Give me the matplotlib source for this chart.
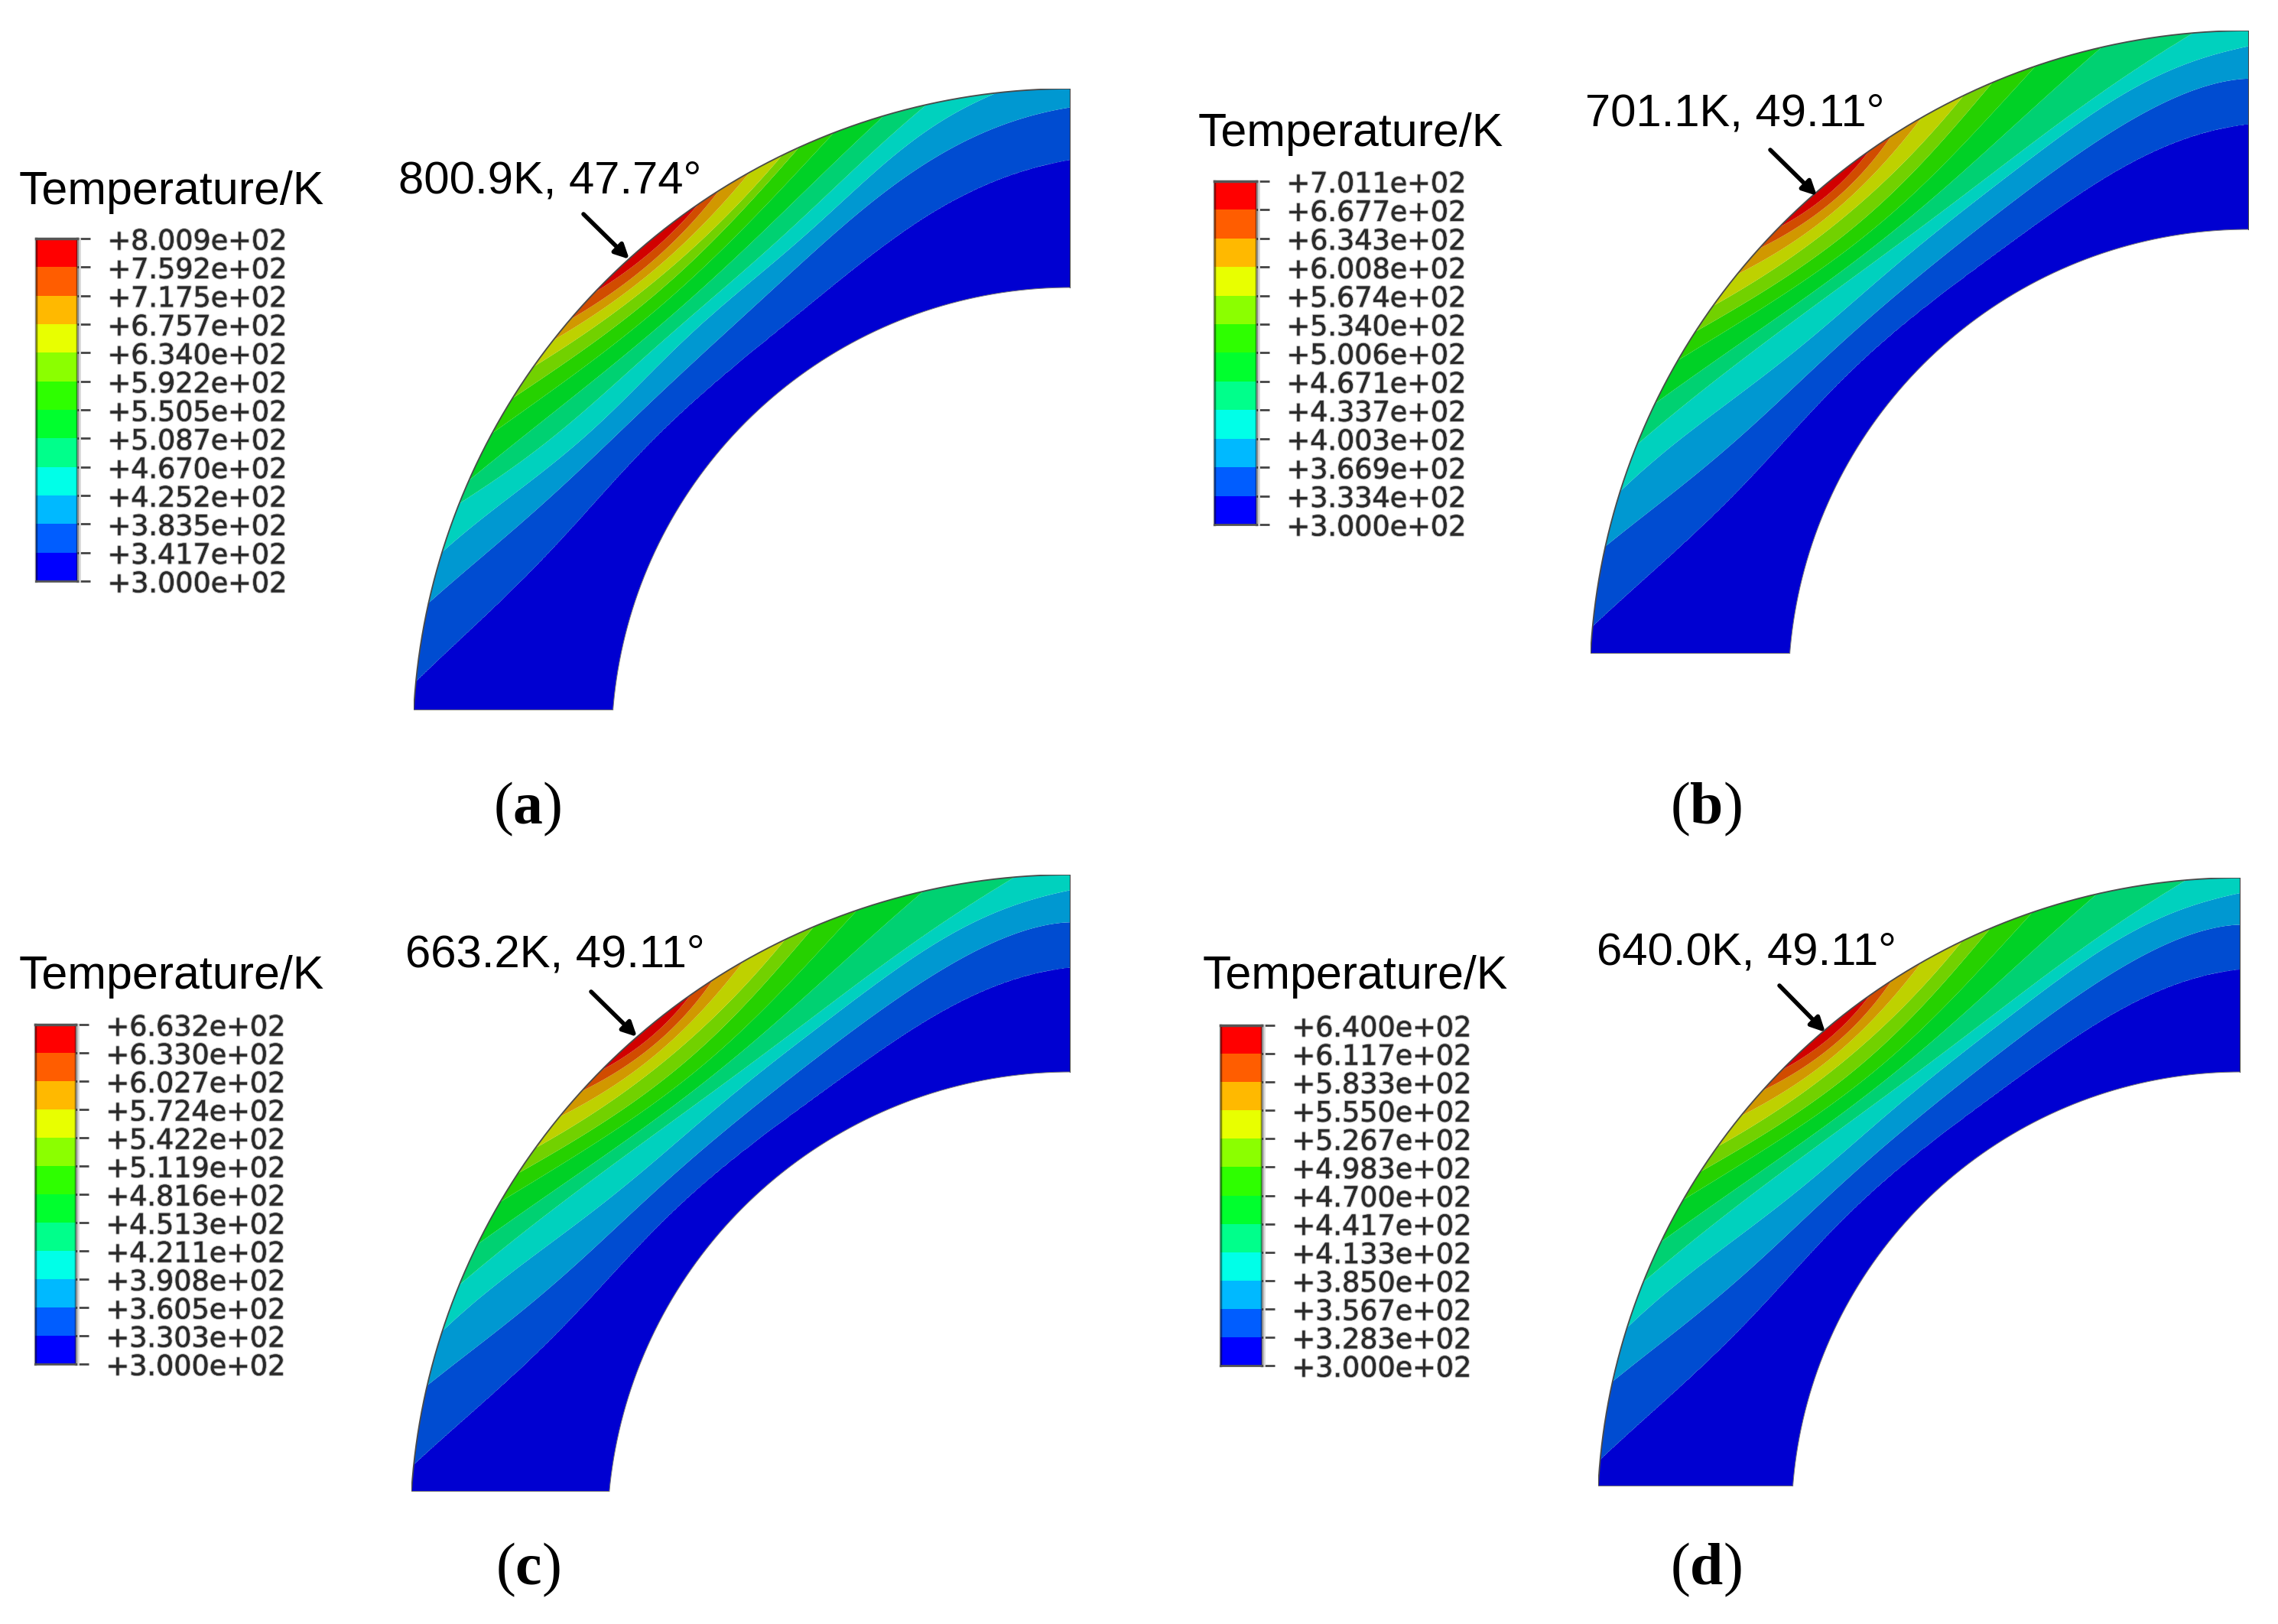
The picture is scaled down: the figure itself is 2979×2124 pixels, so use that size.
import numpy as np
import matplotlib
matplotlib.use("Agg")
import matplotlib.pyplot as plt
import matplotlib.patheffects as pe

W, H = 2979, 2124

# legend values of each case, top to bottom
LEVELS_A = [800.9, 759.2, 717.5, 675.7, 634.0, 592.2, 550.5, 508.7, 467.0, 425.2, 383.5, 341.7, 300.0]
LEVELS_B = [701.1, 667.7, 634.3, 600.8, 567.4, 534.0, 500.6, 467.1, 433.7, 400.3, 366.9, 333.4, 300.0]
LEVELS_C = [663.2, 633.0, 602.7, 572.4, 542.2, 511.9, 481.6, 451.3, 421.1, 390.8, 360.5, 330.3, 300.0]
LEVELS_D = [640.0, 611.7, 583.3, 555.0, 526.7, 498.3, 470.0, 441.7, 413.3, 385.0, 356.7, 328.3, 300.0]

NOTES = ["800.9K, 47.74°", "701.1K, 49.11°", "663.2K, 49.11°", "640.0K, 49.11°"]
LABELS = ["a", "b", "c", "d"]

# abaqus default contour colours, low to high
BAND_RGB = [(0, 0, 255), (0, 93, 255), (0, 185, 255), (0, 255, 232), (0, 255, 139), (0, 255, 46),
            (46, 255, 0), (139, 255, 0), (232, 255, 0), (255, 185, 0), (255, 93, 0), (255, 0, 0)]

# angle from the left end of the arc, degrees
ANGLES = [0, 10, 20, 30, 35, 40, 45, 50, 55, 60, 70, 80, 90]

# radius (outer surface = 1) where each contour sits at each angle, lowest contour first
# values above 1 lie outside the part, so that contour meets the surface there
RADII_A = [
    [1.040, 0.906, 0.825, 0.785, 0.773, 0.762, 0.757, 0.757, 0.760, 0.768, 0.805, 0.850, 0.886],
    [1.120, 1.000, 0.895, 0.835, 0.820, 0.810, 0.806, 0.806, 0.815, 0.830, 0.875, 0.930, 0.970],
    [1.200, 1.050, 0.948, 0.868, 0.855, 0.846, 0.842, 0.841, 0.848, 0.862, 0.910, 0.980, 1.050],
    [1.250, 1.107, 0.996, 0.905, 0.884, 0.872, 0.864, 0.862, 0.869, 0.884, 0.938, 1.026, 1.146],
    [1.281, 1.132, 1.018, 0.939, 0.913, 0.895, 0.886, 0.886, 0.894, 0.911, 0.971, 1.066, 1.196],
    [1.382, 1.204, 1.068, 0.974, 0.942, 0.920, 0.910, 0.909, 0.919, 0.939, 1.011, 1.124, 1.279],
    [1.469, 1.267, 1.112, 1.004, 0.968, 0.943, 0.930, 0.929, 0.940, 0.962, 1.042, 1.169, 1.343],
    [1.579, 1.343, 1.162, 1.035, 0.993, 0.963, 0.948, 0.945, 0.953, 0.974, 1.060, 1.200, 1.422],
    [1.726, 1.441, 1.223, 1.067, 1.016, 0.981, 0.963, 0.960, 0.970, 0.996, 1.100, 1.280, 1.549],
    [1.884, 1.541, 1.279, 1.098, 1.037, 0.996, 0.976, 0.973, 0.986, 1.020, 1.150, 1.370, 1.696],
    [2.022, 1.637, 1.341, 1.134, 1.064, 1.016, 0.991, 0.986, 0.998, 1.035, 1.180, 1.420, 1.765],
    [2.042, 1.657, 1.361, 1.154, 1.084, 1.036, 1.003, 1.003, 1.018, 1.055, 1.200, 1.440, 1.785],
]

# cases b, c and d share almost the same pattern
RADII_BCD = [
    [1.040, 0.900, 0.815, 0.775, 0.762, 0.752, 0.747, 0.745, 0.746, 0.750, 0.780, 0.820, 0.850],
    [1.120, 1.000, 0.885, 0.825, 0.808, 0.795, 0.791, 0.790, 0.793, 0.800, 0.835, 0.885, 0.923],
    [1.200, 1.050, 0.955, 0.875, 0.850, 0.835, 0.828, 0.826, 0.830, 0.840, 0.875, 0.930, 0.975],
    [1.237, 1.104, 0.998, 0.921, 0.893, 0.872, 0.858, 0.851, 0.851, 0.858, 0.894, 0.957, 1.049],
    [1.336, 1.170, 1.041, 0.948, 0.916, 0.892, 0.877, 0.872, 0.876, 0.888, 0.941, 1.030, 1.156],
    [1.466, 1.259, 1.099, 0.985, 0.946, 0.917, 0.900, 0.895, 0.901, 0.919, 0.990, 1.107, 1.270],
    [1.555, 1.322, 1.142, 1.015, 0.970, 0.940, 0.922, 0.917, 0.926, 0.948, 1.030, 1.166, 1.354],
    [1.637, 1.380, 1.182, 1.043, 0.995, 0.962, 0.944, 0.941, 0.948, 0.970, 1.060, 1.210, 1.442],
    [1.889, 1.543, 1.277, 1.091, 1.028, 0.985, 0.962, 0.959, 0.970, 1.000, 1.120, 1.330, 1.655],
    [2.213, 1.752, 1.397, 1.149, 1.066, 1.008, 0.978, 0.974, 0.986, 1.030, 1.190, 1.470, 1.901],
    [2.500, 1.940, 1.506, 1.203, 1.100, 1.030, 0.992, 0.987, 1.002, 1.050, 1.250, 1.600, 2.115],
    [2.520, 1.960, 1.526, 1.223, 1.120, 1.050, 1.012, 1.003, 1.022, 1.070, 1.270, 1.620, 2.135],
]

# layout in reference pixels
# part: left, right, top, inner_y, bottom
PARTS = [(541, 1400, 116, 376, 929), (2080, 2941, 40, 300, 855),
         (538, 1400, 1144, 1402, 1951), (2090, 2930, 1148, 1402, 1944)]
# legend bar: left, right, top, bottom
BARS = [(47, 101, 312, 760), (1588, 1643, 237, 686), (46, 99, 1340, 1784), (1596, 1650, 1341, 1786)]
TITLE_XY = [(25, 251), (1567, 175), (25, 1278), (1573, 1278)]
NOTE_XY = [(521, 237), (2073, 149), (530, 1249), (2088, 1246)]
ARROWS = [((763, 280), (823, 339)), ((2315, 196), (2376, 256)), ((773, 1297), (833, 1356)), ((2327, 1289), (2387, 1350))]
LABEL_XY = [(690, 1058), (2231, 1058), (690, 2053), (2231, 2053)]


def pixel_axes(fig, left, right, top, bottom):
    """
    Make an axes from a box given in reference pixels.
    """
    return fig.add_axes([left / W, 1 - bottom / H, (right - left) / W, (bottom - top) / H])


def contour_radii(radii, t):
    """
    Smooth curve for each row of the contour table, evaluated at angles t.
    Table values well outside the part only steer the fit, so they weigh little.
    """
    out = []
    for row in radii:
        row = np.array(row)
        weights = np.where(row < 1.1, 1.0, 0.05)
        coef = np.polyfit(np.array(ANGLES) / 90, row, 8, w=weights)
        out.append(np.polyval(coef, t / 90))
    return np.array(out)


def draw_part(fig, box, radii, levels, colors):
    left, right, top, inner_y, bottom = box
    ax = pixel_axes(fig, left, right, top, bottom)
    ax.set_xlim(left, right)
    ax.set_ylim(bottom, top)
    ax.axis("off")

    # two concentric circles, the centre lies a little below the lower cut
    dx = right - left
    dy = bottom - top
    r_out = (dx**2 + dy**2) / (2 * dy)
    cy = top + r_out
    r_in = cy - inner_y

    phi = np.radians(np.linspace(-8, 90, 800))
    rho = np.linspace(r_in, r_out, 280)
    X = right - rho[None, :] * np.cos(phi)[:, None]
    Y = cy - rho[None, :] * np.sin(phi)[:, None]

    # the table was read relative to a box fitted on the part
    u = (right - X) / dx
    v = (bottom - Y) / dy
    t = np.clip(np.degrees(np.arctan2(v, u)), 0, 90)
    r = np.hypot(u, v)
    surf = np.interp(t, t[:, -1], r[:, -1])
    pos = r + (1 - surf) * np.clip((r - 0.7) / 0.3, 0, 1)

    low = levels[::-1]
    edges = np.concatenate([np.zeros((1,) + t.shape), contour_radii(radii, t)])
    T = np.full(t.shape, low[-1], dtype=float)
    for j in range(12):
        mask = (pos >= edges[j]) & (pos < edges[j + 1])
        w = (pos[mask] - edges[j][mask]) / (edges[j + 1][mask] - edges[j][mask])
        T[mask] = low[j] + w * (low[j + 1] - low[j])
    ax.contourf(X, Y, T, levels=low, colors=colors, antialiased=True)

    # thin mesh outline
    ax.plot(X[:, -1], Y[:, -1], color="#4a4a4a", lw=1.3, clip_on=True)
    ax.plot(X[:, 0], Y[:, 0], color="#777777", lw=0.7, clip_on=True)
    ax.plot([right, right], [top, inner_y], color="#444444", lw=1.5)
    ax.plot([left, left + r_out - r_in], [bottom, bottom], color="#777777", lw=1.5)


def draw_legend(fig, box, levels, colors):
    left, right, top, bottom = box
    ax = pixel_axes(fig, left, right, top, bottom)
    ax.barh(np.arange(12) + 0.5, 1, height=1, color=colors)
    ax.set_xlim(0, 1)
    ax.set_ylim(0, 12)
    ax.set_xticks([])
    ax.yaxis.tick_right()
    ax.set_yticks(range(13))
    labels = [f"+{v / 100:.3f}e+02" for v in levels[::-1]]
    ax.set_yticklabels(labels, fontsize=26.3, color="#2a2a2a", family="DejaVu Sans")
    ax.tick_params(axis="y", length=12.5, width=2.0, color="#444444", pad=16)
    for spine in ["left", "right"]:
        ax.spines[spine].set_color((0, 0, 0, 0.45))
        ax.spines[spine].set_linewidth(2.5)
    ax.spines["top"].set_color("#555555")
    ax.spines["top"].set_linewidth(2.5)
    ax.spines["bottom"].set_color("#555555")
    ax.spines["bottom"].set_linewidth(2.0)
    ax.plot([1.05, 1.05], [0, 12], color="#d8d8d8", lw=2.0, clip_on=False)
    # the labels have a soft grey halo in the reference
    for lab in ax.get_yticklabels():
        lab.set_path_effects([pe.withStroke(linewidth=1.6, foreground="#b8b8b8"), pe.Normal()])


def main():
    plt.rcParams["font.family"] = ["Liberation Sans", "DejaVu Sans"]
    plt.rcParams["mathtext.fontset"] = "custom"
    plt.rcParams["mathtext.bf"] = "Liberation Serif:bold"
    plt.rcParams["mathtext.rm"] = "Liberation Serif"
    fig = plt.figure(figsize=(W / 100, H / 100), dpi=100)

    cases = [LEVELS_A, LEVELS_B, LEVELS_C, LEVELS_D]
    tables = [RADII_A, RADII_BCD, RADII_BCD, RADII_BCD]
    field_colors = [tuple(c * 0.82 / 255 for c in rgb) for rgb in BAND_RGB]
    legend_colors = [tuple(c / 255 for c in rgb) for rgb in BAND_RGB]

    # full figure axes for the loose text and arrows, in reference pixels
    over = fig.add_axes([0, 0, 1, 1], zorder=5)
    over.set_xlim(0, W)
    over.set_ylim(H, 0)
    over.axis("off")

    for i, levels in enumerate(cases):
        draw_part(fig, PARTS[i], tables[i], levels, field_colors)
        draw_legend(fig, BARS[i], levels, legend_colors)
        over.text(*TITLE_XY[i], "Temperature/K", fontsize=43.8, ha="left", va="center")
        over.text(*NOTE_XY[i], NOTES[i], fontsize=43.0, ha="left", va="center")
        tail, tip = ARROWS[i]
        over.annotate("", xy=tip, xytext=tail,
                      arrowprops=dict(arrowstyle="-|>,head_length=1.1,head_width=0.55", color="black", lw=4,
                                      shrinkA=0, shrinkB=0))
        over.text(*LABEL_XY[i], "($\\mathbf{" + LABELS[i] + "}$)", fontsize=56, ha="center", va="center",
                  family="Liberation Serif")

    fig.savefig("out.png", dpi=100)


if __name__ == "__main__":
    main()
